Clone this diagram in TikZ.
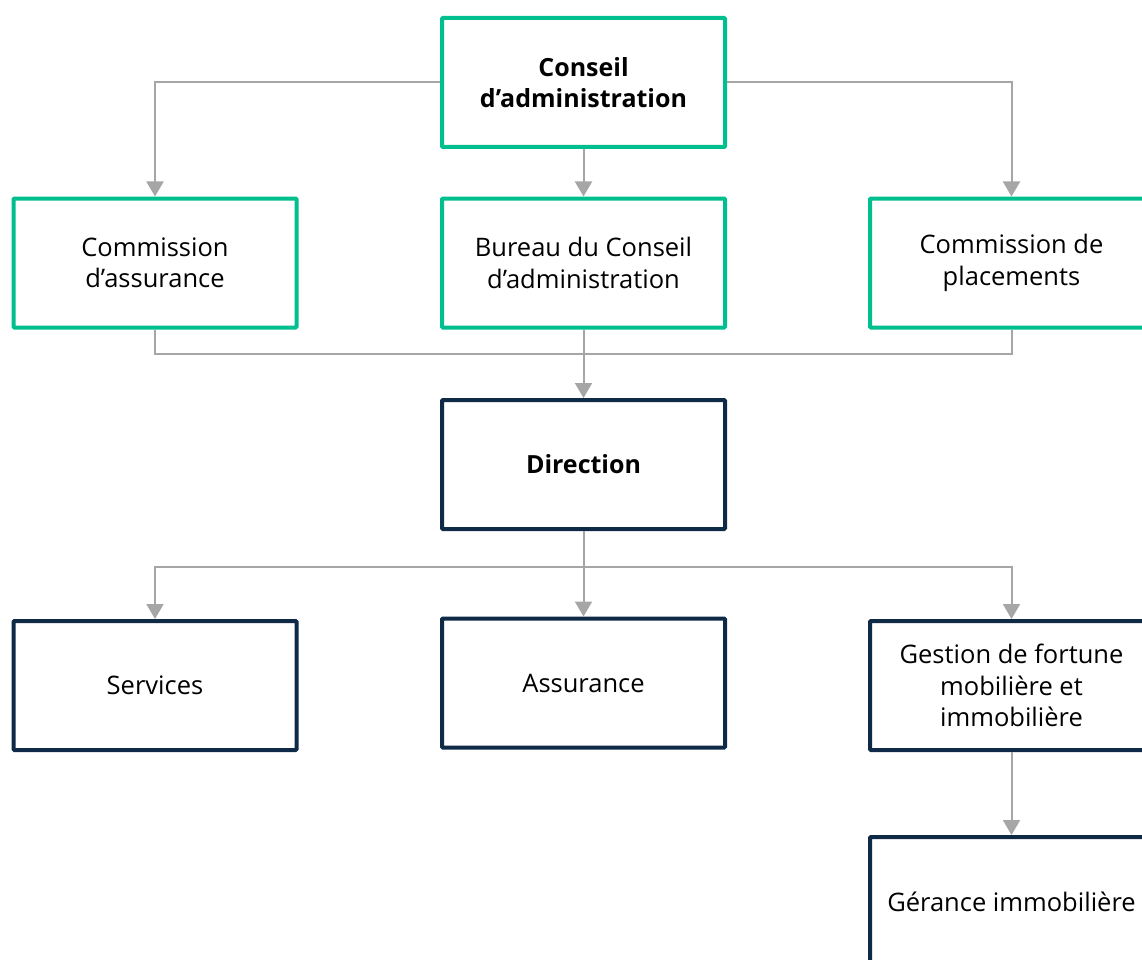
\documentclass[tikz,border=0pt]{standalone}
\usepackage{fontspec}
\setmainfont{Open Sans}
\usetikzlibrary{arrows.meta}
\definecolor{vert}{RGB}{0,191,143}
\definecolor{marine}{RGB}{14,42,71}
\definecolor{gris}{RGB}{166,166,166}
\tikzset{
  boxbase/.style={rectangle, draw, line width=4pt, fill=white, minimum width=283pt, minimum height=129pt, inner sep=0pt, align=center, font=\fontsize{25.5}{31.5}\selectfont, text=black, rounded corners=1pt},
  gbox/.style={boxbase, draw=vert},
  nbox/.style={boxbase, draw=marine},
  boldtext/.style={font=\fontsize{25}{31.5}\selectfont\bfseries},
  link/.style={draw=gris, line width=2pt},
  conn/.style={link, -{Triangle[width=17pt,length=15pt]}}
}
\begin{document}
\begin{tikzpicture}[x=1pt,y=-1pt]
\useasboundingbox (0,0) rectangle (1142,960);
\clip (0,0) rectangle (1142,960);
\node[gbox, boldtext] (conseil) at (583.5,82.5) {Conseil\\d’administration};
\node[gbox] (comA) at (155,263) {Commission\\d’assurance};
\node[gbox] (bureau) at (583.5,263) {Bureau du Conseil\\d’administration};
\node[gbox] (comP) at (1011.5,263) {Commission de\\placements};
\node[nbox, boldtext] (direction) at (583.5,464.5) {Direction};
\node[nbox] (services) at (155,685.5) {Services};
\node[nbox] (assurance) at (583.5,683) {Assurance};
\node[nbox] (gestion) at (1011.5,685.5) {Gestion de fortune\\mobilière et\\immobilière};
\node[nbox] (gerance) at (1011.5,901.5) {Gérance immobilière};
\coordinate (j1) at (583.5,354);
\coordinate (j2) at (583.5,567);
\draw[conn] (conseil.west) -| (comA.north);
\draw[conn] (conseil.south) -- (bureau.north);
\draw[conn] (conseil.east) -| (comP.north);
\draw[link] (comA.south) |- (j1) -| (comP.south);
\draw[conn] (bureau.south) -- (direction.north);
\draw[conn] (direction.south) -- (assurance.north);
\draw[conn] (j2) -| (services.north);
\draw[conn] (j2) -| (gestion.north);
\draw[conn] (gestion.south) -- (gerance.north);
\end{tikzpicture}
\end{document}
